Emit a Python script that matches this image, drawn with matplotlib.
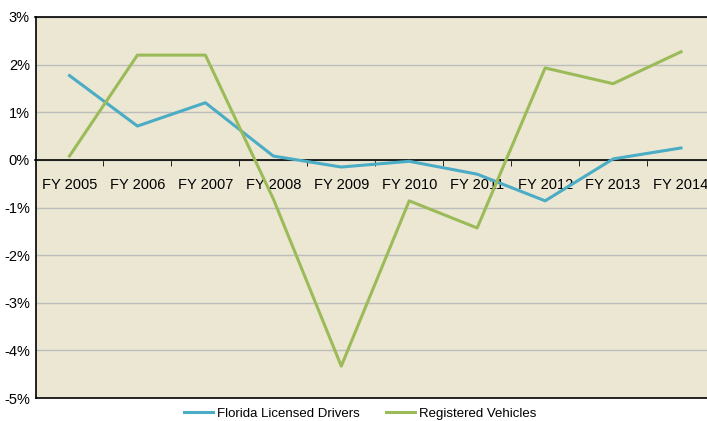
import matplotlib.pyplot as plt
from matplotlib.ticker import FixedLocator, PercentFormatter

plt.rcParams['font.family'] = ['Liberation Sans', 'DejaVu Sans']
plt.rcParams['axes.unicode_minus'] = False

# Data (annual % change)
years = ['FY 2005', 'FY 2006', 'FY 2007', 'FY 2008', 'FY 2009',
         'FY 2010', 'FY 2011', 'FY 2012', 'FY 2013', 'FY 2014']
drivers = [1.77, 0.71, 1.20, 0.08, -0.15, -0.03, -0.30, -0.86, 0.02, 0.25]
vehicles = [0.08, 2.20, 2.20, -0.82, -4.33, -0.86, -1.43, 1.93, 1.60, 2.27]

fig = plt.figure(figsize=(7.07, 4.21), dpi=100)
W, H = 707, 421
ax = fig.add_axes([35.5 / W, (H - 398) / H, (715 - 35.5) / W, (398 - 17) / H])
ax.set_facecolor('#ECE7D3')

x = list(range(len(years)))
ax.plot(x, drivers, color='#4BACC6', lw=2.2, label='Florida Licensed Drivers', zorder=3)
ax.plot(x, vehicles, color='#9BBB59', lw=2.2, label='Registered Vehicles', zorder=3)

ax.set_xlim(-0.5, len(years) - 0.5)
ax.set_ylim(-5, 3)
ax.set_yticks(range(-5, 4))
ax.yaxis.set_major_formatter(PercentFormatter(decimals=0))
ax.grid(axis='y', color='#BDBDBD', lw=1)
ax.set_axisbelow(True)
ax.tick_params(axis='y', length=0, pad=4, labelsize=10.5)

# category axis sits on the zero line
ax.spines['bottom'].set_position(('data', 0))
ax.spines['bottom'].set_zorder(2)
ax.axhline(-5, color='black', lw=1.2, clip_on=False)
for s in ax.spines.values():
    s.set_color('black')
    s.set_linewidth(1.2)
ax.set_xticks(x)
ax.set_xticklabels(years)
ax.xaxis.set_minor_locator(FixedLocator([i + 0.5 for i in x]))
ax.tick_params(axis='x', which='major', length=0, pad=13, labelsize=10.5)
ax.tick_params(axis='x', which='minor', length=4, direction='out', color='black')

fig.legend(loc='lower center', bbox_to_anchor=(0.51, -0.025), ncol=2, frameon=False,
           fontsize=9.5, handlelength=2.2, handletextpad=0.3, columnspacing=2.0)

plt.savefig('out.png', dpi=100)
